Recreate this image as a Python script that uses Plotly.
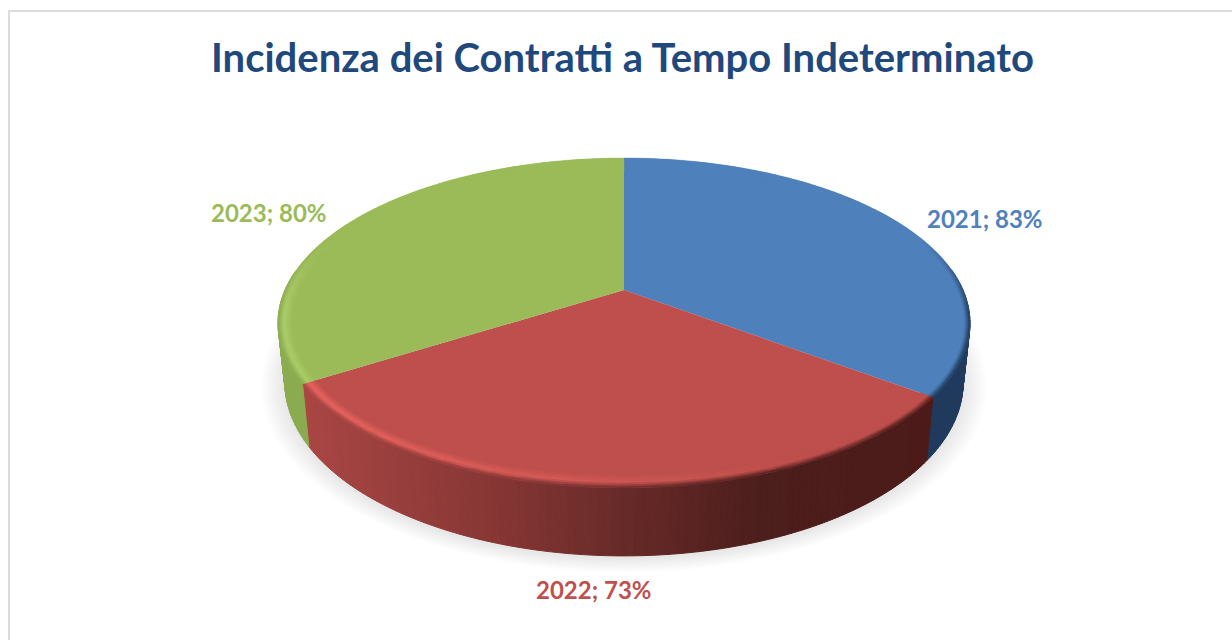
import math
import numpy as np
import plotly.graph_objects as go

# --- data ---
years = ["2021", "2022", "2023"]
shares = [83, 73, 80]
title_text = "Incidenza dei Contratti a Tempo Indeterminato"

# --- style ---
BASE = {"2021": (78, 128, 188), "2022": (190, 79, 76), "2023": (155, 187, 89)}
WALL = {"2021": (31, 58, 92), "2022": None, "2023": (138, 171, 79)}
HIGH = {"2021": (78, 128, 188), "2022": (232, 100, 96), "2023": (172, 206, 106)}
TEXT = {"2021": "#4F81BD", "2022": "#C0504D", "2023": "#9BBB59"}
LABEL_POS = {"2021": (985, 218), "2022": (594, 589), "2023": (269, 212)}
RED_STOPS = [(300, (170, 70, 68)), (500, (133, 54, 52)), (624, (103, 42, 40)),
             (760, (76, 30, 28)), (940, (76, 27, 25))]

CX, CY, A, B, C, PERSP = 624.0, 290.0, 158.4, 0.2, 339.0, 0.2
BOTTOM_CY, BOTTOM_SX, BOTTOM_SY = 348.0, 0.98, 1.05
RIM_PX = 14.0


def top_xy(theta, r=1.0):
    u, v = math.sin(theta), math.cos(theta)
    d = 1 + PERSP * v
    return CX + r * C * u / d, CY - r * A * v / d


def bottom_xy(theta, scale=1.0, cy=BOTTOM_CY):
    u, v = math.sin(theta), math.cos(theta)
    d = 1 + PERSP * v
    return CX + scale * BOTTOM_SX * C * u / d, cy - scale * BOTTOM_SY * A * v / d


def rim_width(theta):
    x, y = top_xy(theta)
    return RIM_PX / math.hypot(x - CX, y - CY)


def mix(a, b, t):
    t = max(0.0, min(1.0, t))
    return tuple(a[i] + (b[i] - a[i]) * t for i in range(3))


def red_wall(x):
    xs = [s[0] for s in RED_STOPS]
    return tuple(float(np.interp(x, xs, [s[1][i] for s in RED_STOPS])) for i in range(3))


def wall_colour(year, x):
    return red_wall(x) if WALL[year] is None else WALL[year]


def key(c):
    return "rgb(%d,%d,%d)" % tuple(min(255, int(round(v))) for v in c)


# Sector limits derived from the values
edges = np.concatenate([[0.0], np.cumsum(shares)]) / float(sum(shares)) * 2 * math.pi
fig = go.Figure()

# Soft shadow beneath the body
for i in range(12):
    s = 1.07 - i * 0.006
    pts = [bottom_xy(t, s, BOTTOM_CY + 2) for t in np.linspace(0, 2 * math.pi, 180)]
    fig.add_trace(go.Scatter(x=[p[0] for p in pts], y=[p[1] for p in pts], mode="lines", fill="toself",
                             fillcolor="rgba(120,120,120,0.016)", line=dict(width=0),
                             hoverinfo="skip", showlegend=False))

# Side wall and rim are drawn as thin strips, grouped by colour
walls, rims = {}, {}


def add_poly(store, colour, pts):
    b = store.setdefault(key(colour), ([], []))
    b[0].extend([p[0] for p in pts] + [pts[0][0], None])
    b[1].extend([p[1] for p in pts] + [pts[0][1], None])


DT = math.radians(1.0)
for k, year in enumerate(years):
    a0, a1 = float(edges[k]), float(edges[k + 1])
    n = max(2, int((a1 - a0) / DT))
    th = np.linspace(a0, a1, n + 1)
    for i in range(n):
        t0, t1 = th[i], th[i + 1]
        mid = (t0 + t1) / 2
        mx, my = top_xy(mid)
        if my > CY - 20:
            add_poly(walls, wall_colour(year, mx),
                     [top_xy(t0), top_xy(t1), bottom_xy(t1), bottom_xy(t0)])

# Walls first, so the top surface covers their upper side
for colour, (xs, ys) in walls.items():
    fig.add_trace(go.Scatter(x=xs, y=ys, mode="lines", fill="toself", fillcolor=colour,
                             line=dict(width=1, color=colour), hoverinfo="skip", showlegend=False))

# Flat top surface, one slice per year
for k, year in enumerate(years):
    n = 120
    pts = [top_xy(t) for t in np.linspace(edges[k], edges[k + 1], n)]
    xs = [CX] + [p[0] for p in pts] + [CX]
    ys = [CY] + [p[1] for p in pts] + [CY]
    fig.add_trace(go.Scatter(x=xs, y=ys, mode="lines", fill="toself", name=year,
                             fillcolor=key(BASE[year]), line=dict(width=0), showlegend=False,
                             hoverinfo="name"))

# Bevel on the rim
RINGS = 8
for k, year in enumerate(years):
    a0, a1 = float(edges[k]), float(edges[k + 1])
    n = max(2, int((a1 - a0) / (DT * 1.5)))
    th = np.linspace(a0, a1, n + 1)
    for i in range(n):
        t0, t1 = th[i], th[i + 1]
        mx, my = top_xy((t0 + t1) / 2)
        vert = max(0.0, min(1.0, (my - 240) / 70.0))
        light = max(0.0, min(1.0, 1 - (mx - 340) / 480.0)) * vert
        high = mix(BASE[year], HIGH[year], light)
        edge = mix(BASE[year], wall_colour(year, mx), vert)
        w0, w1 = rim_width(t0), rim_width(t1)
        for j in range(RINGS):
            q0, q1 = j / RINGS, (j + 1) / RINGS
            q = (q0 + q1) / 2
            col = mix(BASE[year], high, q / 0.6) if q < 0.6 else mix(high, edge, (q - 0.6) / 0.4)
            add_poly(rims, col, [top_xy(t0, 1 - w0 * (1 - q0)), top_xy(t1, 1 - w1 * (1 - q0)),
                                 top_xy(t1, 1 - w1 * (1 - q1)), top_xy(t0, 1 - w0 * (1 - q1))])

for colour, (xs, ys) in rims.items():
    fig.add_trace(go.Scatter(x=xs, y=ys, mode="lines", fill="toself", fillcolor=colour,
                             line=dict(width=0.4, color=colour), hoverinfo="skip", showlegend=False))

annotations = [dict(x=LABEL_POS[y][0], y=LABEL_POS[y][1], text=f"<b>{y}; {v}%</b>", showarrow=False,
                    xanchor="center", yanchor="middle",
                    font=dict(family="Lato", size=24, color=TEXT[y]))
               for y, v in zip(years, shares)]

FRAME = "#DCDCDC"
shapes = [dict(type="line", x0=9, x1=9, y0=11, y1=640, line=dict(color=FRAME, width=2)),
          dict(type="line", x0=8, x1=1232, y0=11, y1=11, line=dict(color=FRAME, width=2))]

fig.update_layout(
    width=1232, height=640, margin=dict(l=0, r=0, t=0, b=0),
    paper_bgcolor="white", plot_bgcolor="white", showlegend=False,
    title=dict(text=f"<b>{title_text}</b>", x=622.5 / 1232, xanchor="center", y=1 - 58 / 640, yanchor="middle",
               font=dict(family="Lato", size=40, color="#1F497D")),
    xaxis=dict(range=[0, 1232], visible=False, fixedrange=True),
    yaxis=dict(range=[640, 0], visible=False, fixedrange=True),
    annotations=annotations, shapes=shapes,
)

fig.write_html("out.html", config=dict(displayModeBar=False),
               post_script="document.body.style.margin='0';")
